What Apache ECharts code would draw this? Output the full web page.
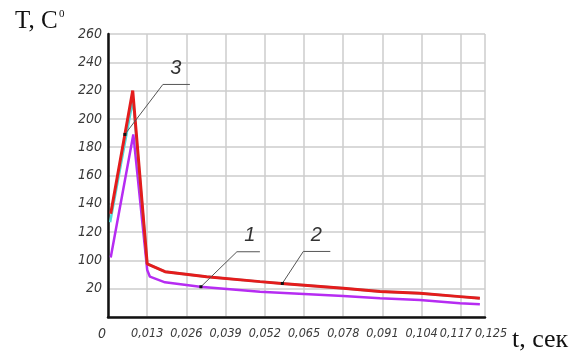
<!DOCTYPE html>
<html><head><meta charset="utf-8">
<script src="https://cdn.jsdelivr.net/npm/echarts@6/dist/echarts.min.js"></script>
<style>html,body{margin:0;padding:0;background:#fff}#c{width:571px;height:351px}</style>
</head><body><div id="c"></div>
<script>
// ---- data ----
// curve 2 (red)
const timeRed = [0.0009, 0.0082, 0.0130, 0.0189, 0.0327, 0.0504, 0.0576, 0.0780, 0.0902, 0.1034, 0.1167, 0.1233];
const tempRed = [133, 220, 90, 68, 54, 40, 35, 21, 18, 16.8, 14.4, 13.2];
// curve 1 (violet)
const timeViolet = [0.0009, 0.0084, 0.0130, 0.0139, 0.0189, 0.0305, 0.0504, 0.0780, 0.0902, 0.1034, 0.1167, 0.1233];
const tempViolet = [102, 189, 73, 54, 38, 25.7, 17.9, 14.9, 13.2, 12, 9.7, 9];
// curve 3 (cyan, mostly hidden under curve 2)
const timeCyan = [0.0007, 0.0083, 0.0130, 0.0189, 0.0327, 0.0504, 0.0576, 0.0780, 0.0902, 0.1034, 0.1167, 0.1233];
const tempCyan = [127, 214, 90, 68, 54, 40, 35, 21, 18, 16.8, 14.4, 13.2];

// y tick labels of the (non-uniform) temperature axis, bottom to top
const yTickValues = [0, 20, 100, 120, 140, 160, 180, 200, 220, 240, 260];
const yTickLabels = ['', '20', '100', '120', '140', '160', '180', '200', '220', '240', '260'];
// x axis
const xMin = 0, xMax = 0.125, xStep = 0.013;

// annotations: label, series index, time of anchor point on the curve
const annLabels = ['3', '1', '2'];
const annSeries = [2, 0, 2];
const annTime = [0.0056, 0.0308, 0.0578];

// ---- scale: temperature -> axis step index (piecewise linear between tick labels) ----
function toAxis(T) {
  for (let i = 1; i < yTickValues.length; i++) {
    if (T <= yTickValues[i]) {
      const a = yTickValues[i - 1], b = yTickValues[i];
      return (i - 1) + (T - a) / (b - a);
    }
  }
  return yTickValues.length - 1;
}
function pairs(ts, vs) { return ts.map((t, i) => [t, toAxis(vs[i])]); }

const chart = echarts.init(document.getElementById('c'), null, {renderer: 'canvas'});
const fam = '"Liberation Sans Narrow", "DejaVu Sans Condensed", "Liberation Sans"';
const yFont = {fontFamily: fam, fontStyle: 'italic', fontSize: 14, color: '#3a3a3a'};
const xFont = {fontFamily: fam, fontStyle: 'italic', fontSize: 12.5, color: '#3a3a3a'};

const seriesData = [pairs(timeViolet, tempViolet), pairs(timeCyan, tempCyan), pairs(timeRed, tempRed)];

chart.setOption({
  animation: false,
  backgroundColor: '#fff',
  grid: {left: 108, right: 86, top: 34, bottom: 34},
  xAxis: {
    type: 'value', min: xMin, max: xMax, interval: xStep,
    axisLine: {show: true, onZero: false, lineStyle: {color: '#111', width: 2.5}},
    axisTick: {show: false},
    splitLine: {show: true, lineStyle: {color: '#cccccc', width: 1.5}},
    axisLabel: Object.assign({}, xFont, {
      margin: 10,
      formatter: function (v) {
        if (Math.abs(v) < 1e-9) return '{z|0}';
        const s = v.toFixed(3).replace('.', ',');
        if (Math.abs(v - xMax) < 1e-9) return '{r|' + s + '}';
        if (Math.abs(v - 0.117) < 1e-6) return '{l|' + s + '}';
        return s;
      },
      rich: {
        z: Object.assign({}, xFont, {fontSize: 14, padding: [0, 12, 0, 0]}),
        l: Object.assign({}, xFont, {padding: [0, 10, 0, 0]}),
        r: Object.assign({}, xFont, {padding: [0, 0, 0, 12]})
      }
    })
  },
  yAxis: {
    type: 'value', min: 0, max: yTickValues.length - 1, interval: 1,
    axisLine: {show: true, onZero: false, lineStyle: {color: '#111', width: 2.5}},
    axisTick: {show: false},
    splitLine: {show: true, lineStyle: {color: '#cccccc', width: 1.5}},
    axisLabel: Object.assign({}, yFont, {
      margin: 6,
      formatter: function (v) { return yTickLabels[Math.round(v)]; }
    })
  },
  series: [
    {type: 'line', data: seriesData[0], symbol: 'none', lineStyle: {color: '#b62cf2', width: 2.5}, z: 2},
    {type: 'line', data: seriesData[1], symbol: 'none', lineStyle: {color: '#4fd8d8', width: 2.5}, z: 3},
    {type: 'line', data: seriesData[2], symbol: 'none', lineStyle: {color: '#e41c1c', width: 3}, z: 4}
  ],
  graphic: [
    {type: 'text', id: 'ytitle', left: 15, top: 9, style: {text: 'T, C', font: '25px "Liberation Serif"', fill: '#111'}},
    {type: 'text', id: 'ytitle0', left: 59, top: 9, style: {text: '0', font: '11px "Liberation Serif"', fill: '#111'}},
    {type: 'text', id: 'xtitle', left: 512, top: 327, style: {text: 't, сек', font: '26px "Liberation Serif"', fill: '#111'}}
  ]
});

// leader lines for the curve numbers, anchored on the curves
function anchorPixel(si, t) {
  const d = seriesData[si];
  for (let i = 1; i < d.length; i++) {
    if (t <= d[i][0]) {
      const p0 = chart.convertToPixel({gridIndex: 0}, d[i - 1]);
      const p1 = chart.convertToPixel({gridIndex: 0}, d[i]);
      const f = (t - d[i - 1][0]) / (d[i][0] - d[i - 1][0]);
      return [p0[0] + f * (p1[0] - p0[0]), p0[1] + f * (p1[1] - p0[1])];
    }
  }
  return chart.convertToPixel({gridIndex: 0}, d[d.length - 1]);
}
const leaderDx = [38, 36, 21], leaderDy = [-50, -35, -32], shelf = [27, 23, 27];
const g = [];
annLabels.forEach((lab, k) => {
  const p = anchorPixel(annSeries[k], annTime[k]);
  const e = [p[0] + leaderDx[k], p[1] + leaderDy[k]];
  g.push({type: 'polyline', id: 'ld' + k, z: 10, shape: {points: [p, e, [e[0] + shelf[k], e[1]]]}, style: {stroke: '#555', lineWidth: 1, fill: null}});
  g.push({type: 'rect', id: 'dot' + k, z: 11, shape: {x: p[0] - 1.5, y: p[1] - 1.5, width: 3, height: 3}, style: {fill: '#111'}});
  g.push({type: 'text', id: 'lab' + k, z: 11, x: e[0] + 13, y: e[1] - 16, style: {text: lab, font: 'italic 20px "Liberation Sans Narrow", "Liberation Sans"', fill: '#333', align: 'center', verticalAlign: 'middle'}});
});
chart.setOption({graphic: g});
</script>
</body></html>
